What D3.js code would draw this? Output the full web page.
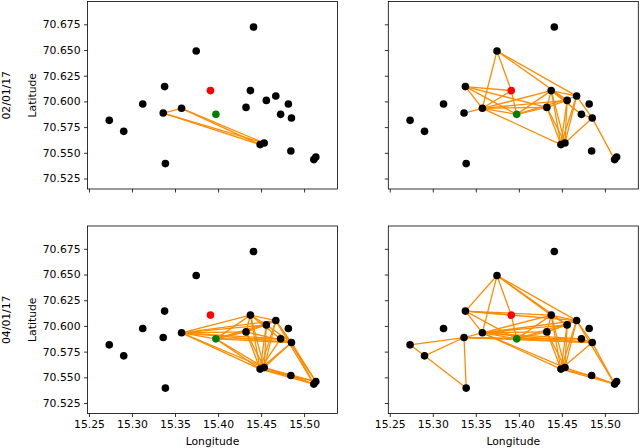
<!DOCTYPE html>
<html>
<head>
<meta charset="utf-8">
<script src="https://cdn.jsdelivr.net/npm/d3@7"></script>
<style>
  body { margin: 0; background: #fff; }
  svg { display: block; }
  .tick text { font-family: "DejaVu Sans", sans-serif; font-size: 10.8px; fill: #000; }
  .tick line { stroke: #000; stroke-width: 0.8; }
  .lbl { font-family: "DejaVu Sans", sans-serif; font-size: 10.8px; fill: #000; }
</style>
</head>
<body>
<div id="chart"></div>
<script>

/* station positions (node 8 = red, node 9 = green) */
var nodeLon = [15.2736, 15.2904, 15.3125, 15.3379, 15.3363, 15.3388, 15.3576, 15.3746,
  15.3912, 15.3975, 15.4412, 15.4376, 15.4325, 15.4561, 15.4671, 15.4817, 15.4727,
  15.4853, 15.4489, 15.4536, 15.4846, 15.5113, 15.5136]
var nodeLat = [70.5816, 70.5709, 70.5975, 70.6144, 70.5887, 70.5395, 70.5933, 70.6490,
  70.6105, 70.5874, 70.6724, 70.6105, 70.5942, 70.6010, 70.6052, 70.5975, 70.5874,
  70.5838, 70.5580, 70.5595, 70.5517, 70.5434, 70.5459]
var redNode = 8
var greenNode = 9

var rowLabels = ["02/01/17", "04/01/17"]
var xTicks = [15.25, 15.30, 15.35, 15.40, 15.45, 15.50]
var yTicks = [70.525, 70.550, 70.575, 70.600, 70.625, 70.650, 70.675]

/* links drawn in each panel: [top-left, top-right, bottom-left, bottom-right] */
var edgesTL = [[4,6],[4,18],[4,19],[6,18],[6,19]]
var edgesTR = [[7,6],[7,8],[8,9],[7,14],[7,13],[3,8],[3,9],[3,6],[3,12],
  [4,6],[6,8],[6,11],[6,12],[6,9],[6,18],[6,13],[9,11],[9,12],[9,14],
  [11,14],[11,13],[11,12],[11,18],[11,19],[12,18],[12,19],[12,13],
  [13,18],[13,19],[14,18],[14,19],[14,17],[19,17],[17,21],[11,16],[16,17]]
var edgesBL = [[6,9],[6,11],[6,12],[6,13],[6,14],[6,16],[6,17],[6,18],[6,19],
  [9,11],[9,12],[9,13],[9,14],[9,16],[9,17],[9,18],[9,19],
  [11,12],[11,13],[11,14],[11,18],[11,19],[11,16],
  [12,13],[12,18],[12,19],[12,17],[13,14],[13,18],[13,19],[13,17],
  [14,17],[14,18],[14,19],[14,21],[14,22],[16,18],[16,17],
  [17,21],[17,22],[17,18],[17,19],[18,21],[18,22],[19,21],[19,22],[18,20],[20,21]]
var edgesBR = [[0,1],[0,4],[1,4],[1,5],[4,5],[4,6],[4,9],[4,17],[4,16],
  [3,7],[3,6],[3,8],[3,9],[3,11],[3,14],[6,7],[7,8],[8,9],[7,11],[7,13],[7,14],
  [6,9],[6,11],[6,12],[6,13],[6,14],[6,16],[6,17],[6,18],[6,19],
  [9,11],[9,12],[9,14],[9,16],[9,17],[11,12],[11,13],[11,14],[11,18],[11,19],
  [12,13],[12,18],[12,19],[12,14],[13,18],[13,19],[14,18],[14,19],[14,17],[14,21],
  [16,17],[17,18],[17,21],[18,21],[19,21],[18,20],[20,21]]

var width = 640, height = 448
var colX = [87.5, 388.3], colW = 250
var rowY = [1.5, 226], rowH = 187.5

var svg = d3.select("#chart").append("svg")
  .attr("width", width)
  .attr("height", height)

var xScale = d3.scaleLinear().domain([15.2483, 15.5388]).range([0, colW])
var yScale = d3.scaleLinear().domain([70.5148, 70.6972]).range([rowH, 0])

var panels = [
  {row: 0, col: 0, edges: edgesTL},
  {row: 0, col: 1, edges: edgesTR},
  {row: 1, col: 0, edges: edgesBL},
  {row: 1, col: 1, edges: edgesBR}
]

panels.forEach(drawPanel)

function drawPanel(p) {
  var g = svg.append("g")
    .attr("transform", "translate(" + colX[p.col] + "," + rowY[p.row] + ")")

  /* axes */
  var xAxis = d3.axisBottom(xScale)
    .tickValues(xTicks)
    .tickSize(3.5).tickPadding(3.5).tickSizeOuter(0)
    .tickFormat(p.row == 1 ? d3.format(".2f") : "")
  var yAxis = d3.axisLeft(yScale)
    .tickValues(yTicks)
    .tickSize(3.5).tickPadding(3.5).tickSizeOuter(0)
    .tickFormat(p.col == 0 ? d3.format(".3f") : "")
  var gx = g.append("g").attr("transform", "translate(0," + rowH + ")").call(xAxis)
  var gy = g.append("g").call(yAxis)
  gx.select(".domain").remove()
  gy.select(".domain").remove()

  /* links */
  g.selectAll("line.edge")
    .data(p.edges)
    .enter().append("line")
    .attr("class", "edge")
    .attr("x1", function(d) { return xScale(nodeLon[d[0]]) })
    .attr("y1", function(d) { return yScale(nodeLat[d[0]]) })
    .attr("x2", function(d) { return xScale(nodeLon[d[1]]) })
    .attr("y2", function(d) { return yScale(nodeLat[d[1]]) })
    .style("stroke", "#ff8c00")
    .style("stroke-width", 1.3)

  /* nodes */
  g.selectAll("circle.node")
    .data(d3.range(nodeLon.length))
    .enter().append("circle")
    .attr("class", "node")
    .attr("cx", function(i) { return xScale(nodeLon[i]) })
    .attr("cy", function(i) { return yScale(nodeLat[i]) })
    .attr("r", 3.8)
    .style("fill", function(i) {
      if (i == redNode) return "#ff0000"
      if (i == greenNode) return "#008000"
      return "#000"
    })

  /* frame */
  g.append("rect")
    .attr("width", colW)
    .attr("height", rowH)
    .style("fill", "none")
    .style("stroke", "#000")
    .style("stroke-width", 0.8)

  if (p.row == 1) {
    g.append("text")
      .attr("class", "lbl")
      .attr("x", colW / 2)
      .attr("y", rowH + 31.5)
      .attr("text-anchor", "middle")
      .text("Longitude")
  }
  if (p.col == 0) {
    g.append("text")
      .attr("class", "lbl")
      .attr("transform", "translate(" + (-52) + "," + (rowH / 2) + ") rotate(-90)")
      .attr("text-anchor", "middle")
      .text("Latitude")
    g.append("text")
      .attr("class", "lbl")
      .attr("transform", "translate(" + (-78) + "," + (rowH / 2) + ") rotate(-90)")
      .attr("text-anchor", "middle")
      .text(rowLabels[p.row])
  }
}

</script>
</body>
</html>
